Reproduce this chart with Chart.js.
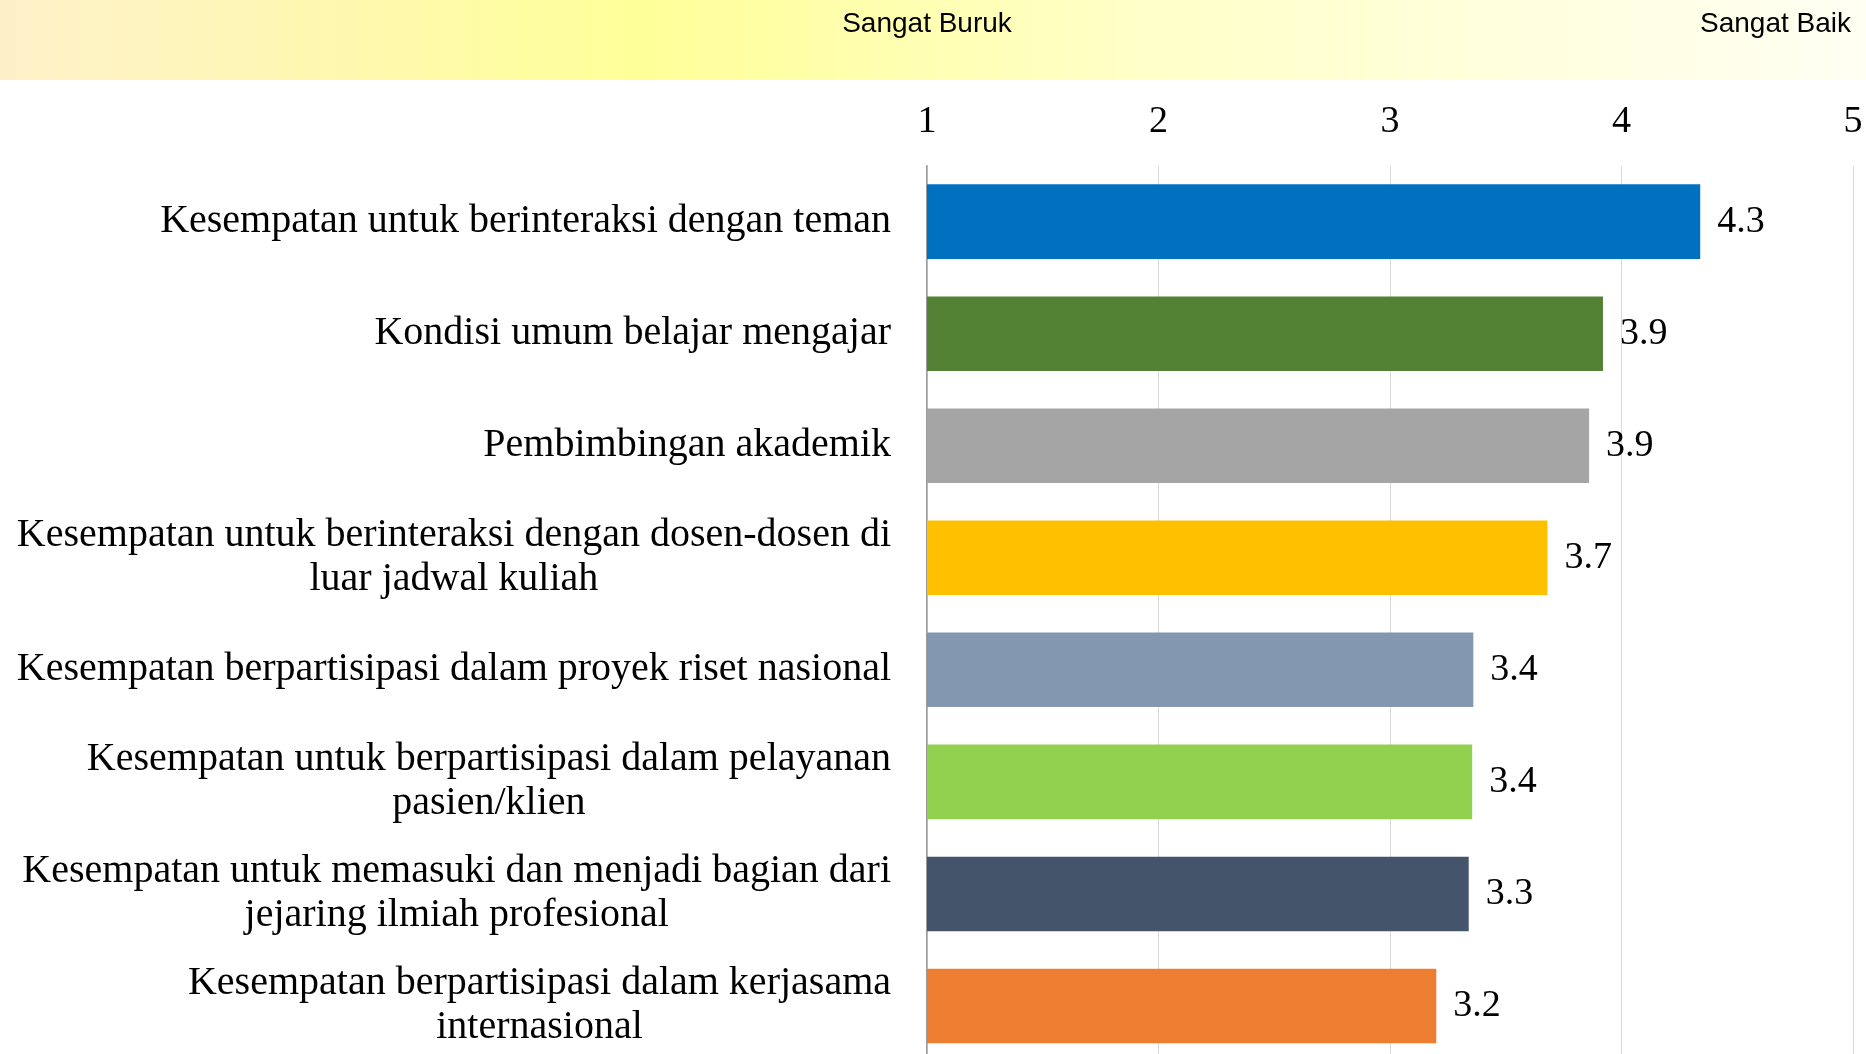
<!DOCTYPE html>
<html>
<head>
<meta charset="utf-8">
<script src="https://cdn.jsdelivr.net/npm/chart.js@4.4.1/dist/chart.umd.min.js"></script>
<style>
  html, body { margin: 0; padding: 0; background: #fff; overflow: hidden; }
  /* plot sedikit terpotong di bawah seperti gambar aslinya */
  #wrap { width: 1866px; height: 1062px; position: relative; }
</style>
</head>
<body>
<div id="wrap"><canvas id="chartPenilaian"></canvas></div>
<script>
// Data
const categories = [
    ['Kesempatan untuk berinteraksi dengan teman'],
    ['Kondisi umum belajar mengajar'],
    ['Pembimbingan akademik'],
    ['Kesempatan untuk berinteraksi dengan dosen-dosen di', 'luar jadwal kuliah'],
    ['Kesempatan berpartisipasi dalam proyek riset nasional'],
    ['Kesempatan untuk berpartisipasi dalam pelayanan', 'pasien/klien'],
    ['Kesempatan untuk memasuki dan menjadi bagian dari', 'jejaring ilmiah profesional'],
    ['Kesempatan berpartisipasi dalam kerjasama', 'internasional'],
];
const scores = [4.34, 3.92, 3.86, 3.68, 3.36, 3.355, 3.34, 3.20];
const barColors = ['#0070C0', '#548235', '#A5A5A5', '#FFC000', '#8497B0', '#92D050', '#44546A', '#ED7D31'];
const scaleMin = 1;
const scaleMax = 5;
const scaleEnds = ['Sangat Buruk', 'Sangat Baik'];

const serif = '"Liberation Serif", "DejaVu Serif", serif';
const sans = '"Liberation Sans", Arial, sans-serif';

// Banner kuning di atas + label skala
const bannerPlugin = {
    id: 'banner',
    beforeDraw(chart) {
        const ctx = chart.ctx;
        const w = chart.width;
        const g = ctx.createLinearGradient(0, 0, w, 0);
        g.addColorStop(0, '#fdf0c9');
        g.addColorStop(0.34, '#ffff99');
        g.addColorStop(0.6, '#ffffc6');
        g.addColorStop(1, '#fffff3');
        ctx.save();
        ctx.fillStyle = g;
        ctx.fillRect(0, 0, w, 80);
        const x = chart.scales.x;
        ctx.font = '28px ' + sans;
        ctx.fillStyle = '#000';
        ctx.textBaseline = 'middle';
        ctx.textAlign = 'center';
        ctx.fillText(scaleEnds[0], x.getPixelForValue(scaleMin), 24);
        ctx.textAlign = 'right';
        ctx.fillText(scaleEnds[1], x.getPixelForValue(scaleMax) - 2, 24);
        ctx.restore();
    },
};

// Label kategori (baris ganda rata tengah, blok rata kanan)
const categoryLabels = {
    id: 'categoryLabels',
    afterDraw(chart) {
        const ctx = chart.ctx;
        const y = chart.scales.y;
        const right = chart.chartArea.left - 36;
        const lh = 44;
        ctx.save();
        ctx.font = '40px ' + serif;
        ctx.fillStyle = '#000';
        ctx.textBaseline = 'middle';
        ctx.textAlign = 'center';
        categories.forEach((lines, i) => {
            const cy = y.getPixelForValue(i);
            const bw = Math.max(...lines.map(l => ctx.measureText(l).width));
            const cx = right - bw / 2;
            const y0 = cy - (lines.length - 1) * lh / 2;
            lines.forEach((l, j) => ctx.fillText(l, cx, y0 + j * lh));
        });
        ctx.restore();
    },
};

// Nilai di ujung batang
const valueLabels = {
    id: 'valueLabels',
    afterDatasetsDraw(chart) {
        const ctx = chart.ctx;
        const meta = chart.getDatasetMeta(0);
        ctx.save();
        ctx.font = '38px ' + serif;
        ctx.fillStyle = '#000';
        ctx.textBaseline = 'middle';
        ctx.textAlign = 'left';
        meta.data.forEach((bar, i) => {
            ctx.fillText(scores[i].toFixed(1), bar.x + 17, bar.y);
        });
        ctx.restore();
    },
};

const ctxPenilaian = document.getElementById('chartPenilaian').getContext('2d');
const chartPenilaian = new Chart(ctxPenilaian, {
    type: 'bar',
    data: {
        labels: categories,
        datasets: [
            {
                data: scores,
                backgroundColor: barColors,
                borderWidth: 0,
                barPercentage: 0.665,
                categoryPercentage: 1,
            },
        ],
    },
    options: {
        indexAxis: 'y',
        responsive: true,
        maintainAspectRatio: false,
        animation: false,
        layout: {
            padding: { top: 78, right: 13, bottom: 0, left: 0 },
        },
        plugins: {
            legend: { display: false },
            tooltip: { enabled: false },
        },
        scales: {
            x: {
                position: 'top',
                min: scaleMin,
                max: scaleMax,
                ticks: {
                    stepSize: 1,
                    padding: 21,
                    color: '#000',
                    font: { family: serif, size: 38 },
                },
                grid: { color: '#d9d9d9', lineWidth: 1, drawTicks: false },
                border: { display: false },
                afterFit(scale) {
                    scale.paddingLeft = 0;
                    scale.paddingRight = 0;
                },
            },
            y: {
                ticks: { display: false },
                grid: { display: false },
                border: { display: true, color: '#9a9a9a', width: 1.5 },
                afterFit(scale) {
                    scale.width = 927;
                },
            },
        },
    },
    plugins: [bannerPlugin, categoryLabels, valueLabels],
});
</script>
</body>
</html>
